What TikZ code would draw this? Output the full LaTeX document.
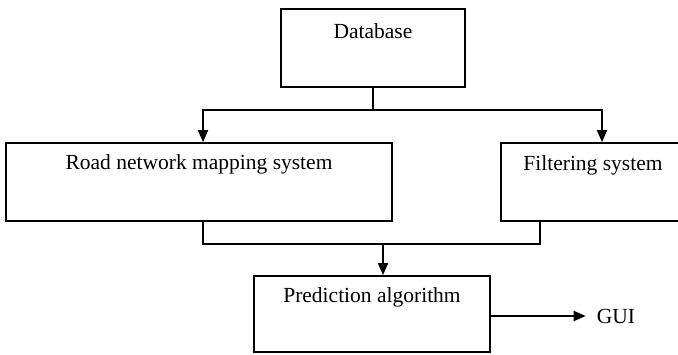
\documentclass[tikz,border=0pt]{standalone}
\usepackage{fontspec}
\setmainfont{Liberation Serif}
\usetikzlibrary{positioning,arrows.meta}

\begin{document}
\begin{tikzpicture}[x=1pt,y=-1pt]
\tikzset{box/.style={draw,line width=1.8pt,inner sep=0pt},
  lbl/.style={inner sep=0pt,font=\fontsize{21.5}{24}\selectfont},
  link/.style={line width=1.8pt},
  arr/.style={link,-{Triangle[length=12pt,width=10pt]}}}
\useasboundingbox (0,0) rectangle (678,354);
\clip (0,0) rectangle (678,354);
% boxes
\node[box,minimum width=184pt,minimum height=78pt] (db) at (373,48) {};
\node[lbl,below=15pt of db.north] (dbt) {Database};
\node[box,minimum width=386pt,minimum height=78pt] (rd) at (199,182) {};
\node[lbl,below=12pt of rd.north] (rdt) {Road network mapping system};
\node[box,minimum width=184pt,minimum height=78pt] (flt) at (593,182) {};
\node[lbl,below=13pt of flt.north] (fltt) {Filtering system};
\node[box,minimum width=236pt,minimum height=76pt] (pred) at (372,314) {};
\node[lbl,below=12pt of pred.north] (predt) {Prediction algorithm};
\node[lbl] (gui) at (616,316) {GUI};
% connectors
\coordinate (split) at (373,110);
\coordinate (join) at (383,244);
\draw[link] (db.south) -- (split);
\draw[arr] (split) -| ([xshift=4pt]rd.north);
\draw[arr] (split) -| ([xshift=9pt]flt.north);
\draw[link] ([xshift=4pt]rd.south) |- (join) -| ([xshift=-53pt]flt.south);
\draw[arr] (join) -- (join |- pred.north);
\draw[arr,shorten >=11pt] (pred.east |- gui.west) -- (gui.west);
\end{tikzpicture}
\end{document}
